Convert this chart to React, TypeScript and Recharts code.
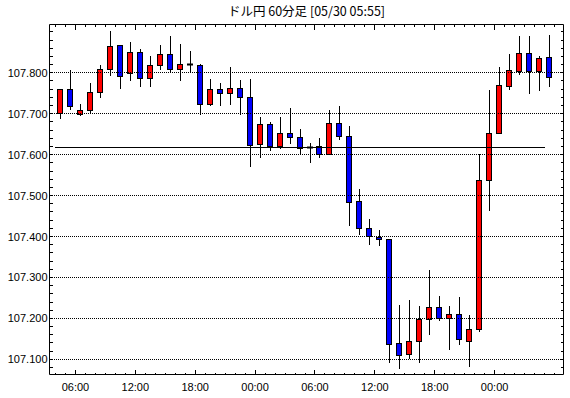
import React from 'react';
import { ComposedChart, Bar, XAxis, YAxis, ReferenceLine } from 'recharts';

// 60-minute bars, first bar = 05/28 04:00
const opens = [
  107.702, 107.761, 107.700, 107.708, 107.754, 107.810, 107.867, 107.800, 107.851, 107.787,
  107.820, 107.846, 107.809, 107.821, 107.820, 107.724, 107.761, 107.751, 107.763, 107.741,
  107.627, 107.676, 107.621, 107.654, 107.644, 107.619, 107.622, 107.601, 107.678, 107.646,
  107.486, 107.420, 107.400, 107.393, 107.139, 107.112, 107.146, 107.198, 107.229, 107.200,
  107.212, 107.146, 107.173, 107.537, 107.654, 107.768, 107.805, 107.849, 107.805, 107.839,
];
const highs = [
  107.761, 107.808, 107.723, 107.776, 107.820, 107.901, 107.869, 107.876, 107.857, 107.840,
  107.869, 107.889, 107.871, 107.854, 107.822, 107.786, 107.776, 107.815, 107.783, 107.786,
  107.693, 107.679, 107.693, 107.715, 107.663, 107.629, 107.640, 107.710, 107.718, 107.671,
  107.515, 107.442, 107.415, 107.393, 107.233, 107.245, 107.231, 107.319, 107.255, 107.231,
  107.253, 107.209, 107.601, 107.759, 107.815, 107.847, 107.889, 107.889, 107.842, 107.893,
];
const lows = [
  107.688, 107.710, 107.694, 107.701, 107.738, 107.792, 107.760, 107.781, 107.765, 107.765,
  107.806, 107.802, 107.781, 107.803, 107.698, 107.719, 107.719, 107.721, 107.698, 107.570,
  107.592, 107.610, 107.614, 107.626, 107.601, 107.580, 107.592, 107.601, 107.636, 107.425,
  107.403, 107.380, 107.377, 107.092, 107.077, 107.100, 107.090, 107.160, 107.194, 107.123,
  107.134, 107.082, 107.167, 107.463, 107.654, 107.758, 107.795, 107.748, 107.755, 107.765,
];
const closes = [
  107.761, 107.718, 107.710, 107.754, 107.810, 107.866, 107.793, 107.851, 107.787, 107.820,
  107.846, 107.809, 107.822, 107.821, 107.724, 107.761, 107.751, 107.763, 107.741, 107.624,
  107.676, 107.622, 107.654, 107.643, 107.617, 107.619, 107.601, 107.678, 107.645, 107.484,
  107.420, 107.401, 107.393, 107.137, 107.110, 107.146, 107.198, 107.229, 107.200, 107.212,
  107.149, 107.173, 107.537, 107.654, 107.771, 107.807, 107.849, 107.805, 107.837, 107.790,
];

const priceLabels = [107.1, 107.2, 107.3, 107.4, 107.5, 107.6, 107.7, 107.8];
const minorPrices = Array.from({ length: 42 }, (_, k) => +(107.08 + k * 0.02).toFixed(2));
const baseLine = 107.618;

// x in hours from 05/28 04:00
const hourTicks = Array.from({ length: 51 }, (_, k) => k);
const timeTickPos = [2, 8, 14, 20, 26, 32, 38, 44];
const timeLabels = ['06:00', '12:00', '18:00', '00:00', '06:00', '12:00', '18:00', '00:00'];

const data = opens.map((o, i) => ({
  t: i + 0.5,
  o,
  h: highs[i],
  l: lows[i],
  c: closes[i],
  range: [lows[i], highs[i]],
}));

const FONT = '"Liberation Sans", Arial, sans-serif';
const snap = (v: number) => Math.round(v - 0.5) + 0.5;

function Candle(props: any) {
  const { x, y, width, height, payload } = props;
  const { o, h, l, c } = payload;
  const top = Math.min(y, y + height);
  const span = Math.abs(height);
  const k = span / (h - l);
  const py = (v: number) => top + (h - v) * k;
  const cx = Math.round(x + width / 2);
  const wx = cx + 0.5;
  const wt = Math.round(py(h));
  const wb = Math.round(py(l));
  if (Math.abs(o - c) < 0.002) {
    const yy = Math.round(py(o)) + 0.5;
    return (
      <g>
        <line x1={wx} x2={wx} y1={wt} y2={wb} stroke="#000" strokeWidth={1} />
        <line x1={cx - 3} x2={cx + 3} y1={yy} y2={yy} stroke="#000" strokeWidth={2} />
      </g>
    );
  }
  const bt = Math.round(py(Math.max(o, c))) + 0.5;
  const bb = Math.round(py(Math.min(o, c))) + 0.5;
  return (
    <g>
      <line x1={wx} x2={wx} y1={wt} y2={wb} stroke="#000" strokeWidth={1} />
      <rect
        x={cx - 2.5}
        y={bt}
        width={5}
        height={Math.max(bb - bt, 1)}
        fill={c >= o ? '#ff0000' : '#0000ff'}
        stroke="#000"
        strokeWidth={1}
      />
    </g>
  );
}

function CrispLine(props: any) {
  const { x1, x2, y1, stroke, strokeDasharray } = props;
  const yy = snap(y1);
  return (
    <line
      x1={Math.round(x1)}
      x2={Math.round(x2)}
      y1={yy}
      y2={yy}
      stroke={stroke}
      strokeWidth={1}
      strokeDasharray={strokeDasharray}
      shapeRendering="crispEdges"
    />
  );
}

const isLabel = (v: number) => priceLabels.some((p) => Math.abs(p - v) < 1e-6);

function LeftTick(props: any) {
  const { x, y, payload } = props;
  const v = payload.value;
  const yy = snap(y);
  return (
    <g>
      <line x1={x} x2={x + 3} y1={yy} y2={yy} stroke="#000" shapeRendering="crispEdges" />
      {isLabel(v) && (
        <text x={x - 2} y={y} textAnchor="end" dominantBaseline="central" fontSize={11} fontFamily={FONT} fill="#000">
          {v.toFixed(3)}
        </text>
      )}
    </g>
  );
}

function RightTick(props: any) {
  const { x, y } = props;
  const yy = snap(y);
  return <line x1={x} x2={x - 3} y1={yy} y2={yy} stroke="#000" shapeRendering="crispEdges" />;
}

function BottomTick(props: any) {
  const { x, y, payload } = props;
  const idx = timeTickPos.indexOf(payload.value);
  const major = idx >= 0;
  const xx = snap(x);
  return (
    <g>
      <line x1={xx} x2={xx} y1={y} y2={y - (major ? 5 : 2)} stroke="#000" shapeRendering="crispEdges" />
      {major && (
        <text x={x} y={y + 12} textAnchor="middle" dominantBaseline="central" fontSize={11} fontFamily={FONT} fill="#000">
          {timeLabels[idx]}
        </text>
      )}
    </g>
  );
}

function TopTick(props: any) {
  const { x, y, payload } = props;
  const major = timeTickPos.includes(payload.value);
  const xx = snap(x);
  return <line x1={xx} x2={xx} y1={y} y2={y + (major ? 5 : 2)} stroke="#000" shapeRendering="crispEdges" />;
}

export default function App() {
  return (
    <div style={{ position: 'absolute', left: 0, top: 0, width: 570, height: 398, background: '#fff' }}>
      <div
        style={{
          position: 'absolute', left: 49, width: 515, top: 3, textAlign: 'center',
          fontFamily: '"Noto Sans CJK JP", sans-serif', fontSize: 12.5, lineHeight: '16px', color: '#000',
        }}
      >
        ドル円 60分足 [05/30 05:55]
      </div>
      <ComposedChart width={570} height={398} data={data} margin={{ top: 0.5, right: 0.5, bottom: 0.5, left: 0.5 }}>
        <XAxis
          xAxisId="bottom"
          dataKey="t"
          type="number"
          domain={[-0.6, 50.9]}
          allowDataOverflow
          ticks={hourTicks}
          interval={0}
          height={23}
          tickSize={0}
          tickMargin={0}
          tick={<BottomTick />}
          axisLine={{ stroke: '#000' }}
          tickLine={false}
        />
        <XAxis
          xAxisId="top"
          orientation="top"
          dataKey="t"
          type="number"
          domain={[-0.6, 50.9]}
          allowDataOverflow
          ticks={hourTicks}
          interval={0}
          height={24}
          tickSize={0}
          tickMargin={0}
          tick={<TopTick />}
          axisLine={{ stroke: '#000' }}
          tickLine={false}
        />
        <YAxis
          yAxisId="left"
          type="number"
          domain={[107.063, 107.918]}
          allowDataOverflow
          ticks={minorPrices}
          interval={0}
          width={49}
          tickSize={0}
          tickMargin={0}
          tick={<LeftTick />}
          axisLine={{ stroke: '#000' }}
          tickLine={false}
        />
        <YAxis
          yAxisId="right"
          orientation="right"
          type="number"
          domain={[107.063, 107.918]}
          allowDataOverflow
          ticks={minorPrices}
          interval={0}
          width={6}
          tickSize={0}
          tickMargin={0}
          tick={<RightTick />}
          axisLine={{ stroke: '#000' }}
          tickLine={false}
        />
        {priceLabels.map((p) => (
          <ReferenceLine
            key={p}
            xAxisId="bottom"
            yAxisId="left"
            y={p}
            stroke="#000"
            strokeDasharray="1 1"
            shape={<CrispLine />}
          />
        ))}
        <ReferenceLine
          xAxisId="bottom"
          yAxisId="left"
          segment={[{ x: 0, y: baseLine }, { x: 49, y: baseLine }]}
          stroke="#000"
          shape={<CrispLine />}
        />
        <Bar
          xAxisId="bottom"
          yAxisId="left"
          dataKey="range"
          barSize={7}
          shape={<Candle />}
          isAnimationActive={false}
        />
      </ComposedChart>
    </div>
  );
}
